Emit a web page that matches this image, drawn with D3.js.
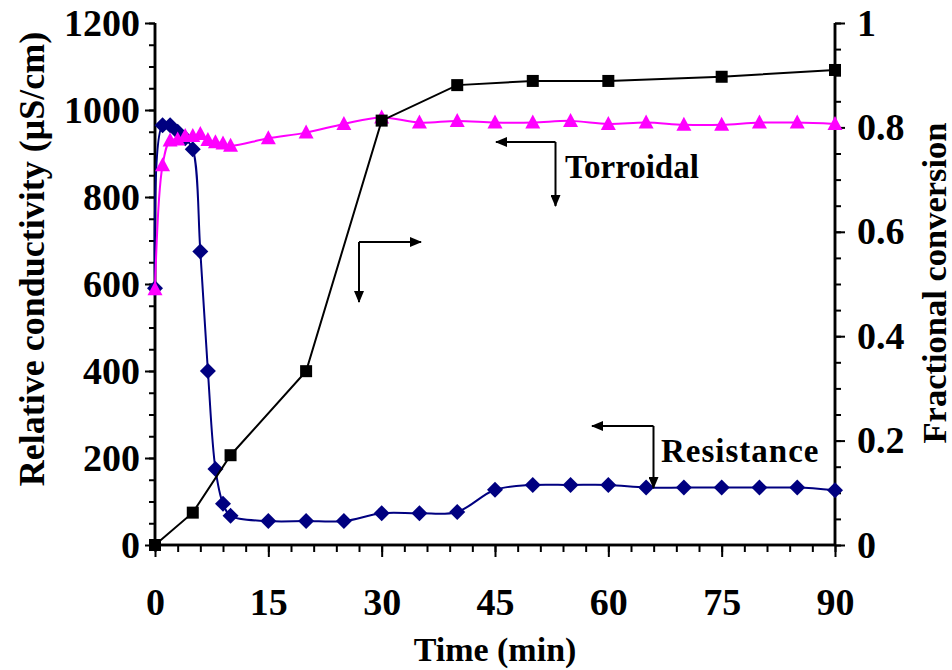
<!DOCTYPE html>
<html>
<head>
<meta charset="utf-8">
<script src="https://cdn.jsdelivr.net/npm/d3@7"></script>
<style>
  html, body { margin: 0; padding: 0; background: #fff; }
  svg text { font-family: "Liberation Serif", "Times New Roman", serif; font-weight: bold; fill: #000; }
</style>
</head>
<body>
<svg id="chart" width="952" height="670"></svg>
<script>
// ---- Data ----
const resistanceTime = [0, 1, 2, 3, 4, 5, 6, 7, 8, 9, 10, 15, 20, 25, 30, 35, 40, 45, 50, 55, 60, 65, 70, 75, 80, 85, 90];
const resistanceCond = [590, 965, 965, 950, 935, 910, 675, 400, 175, 95, 67, 55, 55, 55, 73, 73, 76, 127, 138, 138, 138, 132, 132, 132, 132, 132, 126];

const torroidalTime = [0, 1, 2, 3, 4, 5, 6, 7, 8, 9, 10, 15, 20, 25, 30, 35, 40, 45, 50, 55, 60, 65, 70, 75, 80, 85, 90];
const torroidalCond = [588, 873, 930, 932, 940, 940, 945, 931, 926, 923, 918, 935, 948, 968, 983, 971, 975, 971, 971, 975, 968, 971, 966, 966, 971, 971, 968];

const conversionTime = [0, 5, 10, 20, 30, 40, 50, 60, 75, 90];
const conversionFrac = [0, 0.062, 0.172, 0.333, 0.813, 0.881, 0.889, 0.889, 0.897, 0.91];

const xTickValues = [0, 15, 30, 45, 60, 75, 90];
const yLeftTickValues = [0, 200, 400, 600, 800, 1000, 1200];
const yRightTickValues = [0, 0.2, 0.4, 0.6, 0.8, 1];
const yRightTickLabels = ["0", "0.2", "0.4", "0.6", "0.8", "1"];

const xTitle = "Time (min)";
const yLeftTitle = "Relative conductivity (\u03BCS/cm)";
const yRightTitle = "Fractional conversion";
const labelTorroidal = "Torroidal";
const labelResistance = "Resistance";

// ---- Layout ----
const svg = d3.select("#chart");
const L = 155, R = 835, T = 23, B = 545;

const x = d3.scaleLinear().domain([0, 90]).range([L, R]);
const yL = d3.scaleLinear().domain([0, 1200]).range([B, T]);
const yR = d3.scaleLinear().domain([0, 1]).range([B, T]);

const tickFont = 38;

// ---- Axes ----
const gx = svg.append("g").attr("transform", `translate(0,${B})`);
gx.call(d3.axisBottom(x).tickValues(d3.range(0, 91, 3)).tickSize(7).tickFormat(""));
gx.append("g").call(d3.axisBottom(x).tickValues(xTickValues).tickSize(12).tickFormat(d3.format("d")));
gx.selectAll("text").attr("font-size", tickFont).attr("dy", null).attr("y", 70);

const gyl = svg.append("g").attr("transform", `translate(${L},0)`);
gyl.call(d3.axisLeft(yL).tickValues(d3.range(0, 1201, 50)).tickSize(6).tickFormat(""));
gyl.append("g").call(d3.axisLeft(yL).tickValues(yLeftTickValues).tickSize(10).tickFormat(d3.format("d")));
gyl.selectAll("text").attr("font-size", tickFont).attr("x", -15);

const gyr = svg.append("g").attr("transform", `translate(${R},0)`);
gyr.call(d3.axisRight(yR).tickValues(d3.range(0, 21).map(d => d * 0.05)).tickSize(6).tickFormat(""));
gyr.append("g").call(d3.axisRight(yR).tickValues(yRightTickValues).tickSize(10).tickFormat((d, i) => yRightTickLabels[i]));
gyr.selectAll("text").attr("font-size", tickFont).attr("x", 22);

svg.selectAll(".domain").attr("stroke", "#000").attr("stroke-width", 2.5);
svg.selectAll(".tick line").attr("stroke", "#000").attr("stroke-width", 2);
gx.selectAll(".domain").attr("d", `M${L},0H${R}`);
gyl.selectAll(".domain").attr("d", `M0,${B}V${T}`);
gyr.selectAll(".domain").attr("d", `M0,${B}V${T}`);

// ---- Titles ----
svg.append("text").attr("x", (L + R) / 2).attr("y", 661).attr("text-anchor", "middle")
  .attr("font-size", 34).text(xTitle);
svg.append("text").attr("transform", `translate(44,259) rotate(-90)`).attr("text-anchor", "middle")
  .attr("font-size", 36).text(yLeftTitle);
svg.append("text").attr("transform", `translate(946,283) rotate(-90)`).attr("text-anchor", "middle")
  .attr("font-size", 34.5).text(yRightTitle);

// ---- Series ----
const resData = resistanceTime.map((t, i) => [t, resistanceCond[i]]);
const torData = torroidalTime.map((t, i) => [t, torroidalCond[i]]);
const convData = conversionTime.map((t, i) => [t, conversionFrac[i]]);

const lineL = d3.line().x(d => x(d[0])).y(d => yL(d[1])).curve(d3.curveCatmullRom.alpha(0.5));
const lineR = d3.line().x(d => x(d[0])).y(d => yR(d[1]));

// Resistance (navy diamonds, smooth)
svg.append("path").datum(resData).attr("d", lineL).attr("fill", "none")
  .attr("stroke", "#000080").attr("stroke-width", 2);
svg.append("g").selectAll("path").data(resData).join("path")
  .attr("d", "M0,-8L8,0L0,8L-8,0Z")
  .attr("transform", d => `translate(${x(d[0])},${yL(d[1])})`)
  .attr("fill", "#000080");

// Torroidal (magenta triangles)
svg.append("path").datum(torData).attr("d", lineL).attr("fill", "none")
  .attr("stroke", "#FF00FF").attr("stroke-width", 2);
svg.append("g").selectAll("path").data(torData).join("path")
  .attr("d", "M0,-8L7.5,6L-7.5,6Z")
  .attr("transform", d => `translate(${x(d[0])},${yL(d[1])})`)
  .attr("fill", "#FF00FF");

// Conversion (black squares, straight)
svg.append("path").datum(convData).attr("d", lineR).attr("fill", "none")
  .attr("stroke", "#000").attr("stroke-width", 2);
svg.append("g").selectAll("rect").data(convData).join("rect")
  .attr("x", d => x(d[0]) - 6).attr("y", d => yR(d[1]) - 6)
  .attr("width", 12).attr("height", 12).attr("fill", "#000");

// ---- Annotations (elbow arrows) ----
const defs = svg.append("defs");
defs.append("marker").attr("id", "ah").attr("viewBox", "0 0 12 10").attr("refX", 11).attr("refY", 5)
  .attr("markerWidth", 12).attr("markerHeight", 10).attr("markerUnits", "userSpaceOnUse").attr("orient", "auto")
  .append("path").attr("d", "M0,0L12,5L0,10Z").attr("fill", "#000");

function elbow(cx, cy, hx, vy) {
  const g = svg.append("g");
  g.append("line").attr("x1", cx).attr("y1", cy).attr("x2", hx).attr("y2", cy)
    .attr("stroke", "#000").attr("stroke-width", 2).attr("marker-end", "url(#ah)");
  g.append("line").attr("x1", cx).attr("y1", cy).attr("x2", cx).attr("y2", vy)
    .attr("stroke", "#000").attr("stroke-width", 2).attr("marker-end", "url(#ah)");
}
elbow(555.5, 142, 496, 206);
elbow(359, 242, 421, 302);
elbow(653.5, 426, 592, 488);

svg.append("text").attr("x", 565).attr("y", 178).attr("font-size", 33).text(labelTorroidal);
svg.append("text").attr("x", 661).attr("y", 462).attr("font-size", 33).attr("letter-spacing", 1).text(labelResistance);
</script>
</body>
</html>
